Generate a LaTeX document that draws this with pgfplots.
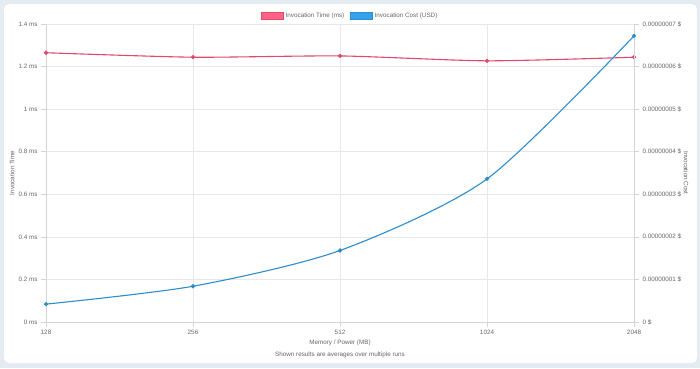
\documentclass[border=0pt]{standalone}
\usepackage{pgfplots}
\pgfplotsset{compat=1.18}
\usepackage{fontspec}
\setmainfont{Liberation Sans}
\definecolor{bgc}{HTML}{E4EBF1}
\definecolor{txt}{HTML}{666666}
\definecolor{gridc}{HTML}{E8E8E8}
\definecolor{axc}{HTML}{D4D4D4}
\definecolor{redl}{HTML}{DE4A6C}
\definecolor{redf}{HTML}{FF6384}
\definecolor{bluel}{HTML}{2E8DCB}
\definecolor{bluef}{HTML}{36A2EB}
\newcommand{\sz}{\fontsize{6.3}{7.5}\selectfont}
\pgfplotsset{
  common/.style={
    at={(46pt,46pt)}, anchor=south west, scale only axis,
    width=588pt, height=298pt,
    xmin=0, xmax=4,
    tick align=outside, major tick length=5pt,
    tick style={axc, line width=0.6pt},
    axis line style={axc, line width=0.7pt},
    ticklabel style={font=\sz, text=txt},
    scaled ticks=false,
    /pgf/number format/assume math mode=true,
  }
}
\begin{document}
\begin{tikzpicture}[x=1pt,y=1pt]
\fill[bgc] (0,0) rectangle (700,368);
\fill[white, rounded corners=5pt] (4,5) rectangle (697,364);
\begin{axis}[common,
  ymin=0, ymax=1.4,
  axis x line*=bottom, axis y line*=left,
  xtick={0,1,2,3,4}, xticklabels={128,256,512,1024,2048},
  ytick={0,0.2,0.4,0.6,0.8,1,1.2,1.4},
  yticklabels={0 ms,0.2 ms,0.4 ms,0.6 ms,0.8 ms,1 ms,1.2 ms,1.4 ms},
  grid=major, major grid style={gridc, line width=0.6pt},
  legend style={at={(0.5,1)}, anchor=south, xshift=10pt, yshift=3pt, draw=none, fill=none,
    font=\sz, text=txt, legend columns=2, inner sep=0pt,
    /tikz/every even column/.append style={column sep=4pt}},
  legend cell align=left,
]
\addplot[redl, line width=1.1pt, smooth, tension=0.4, mark=*, mark size=1.5pt,
  mark options={fill=redl, draw=redl},
  legend image code/.code={\draw[draw=redl, fill=redf] (0pt,-3.4pt) rectangle (22pt,3.4pt);}]
  coordinates {(0,1.265) (1,1.244) (2,1.250) (3,1.227) (4,1.244)};
\addlegendentry{Invocation Time (ms)}
\addlegendimage{legend image code/.code={\draw[draw=bluel, fill=bluef] (0pt,-3.4pt) rectangle (22pt,3.4pt);}}
\addlegendentry{Invocation Cost (USD)}
\end{axis}
\begin{axis}[common,
  ymin=0, ymax=7e-8,
  axis x line=none, axis y line*=right,
  ytick={0,1e-8,2e-8,3e-8,4e-8,5e-8,6e-8,7e-8},
  yticklabels={0 \$,0.00000001 \$,0.00000002 \$,0.00000003 \$,0.00000004 \$,0.00000005 \$,0.00000006 \$,0.00000007 \$},
]
\addplot[bluel, line width=1.1pt, smooth, tension=0.45, mark=*, mark size=1.5pt,
  mark options={fill=bluel, draw=bluel}]
  coordinates {(0,4.2e-9) (1,8.4e-9) (2,1.68e-8) (3,3.36e-8) (4,6.72e-8)};
\end{axis}
\node[rotate=90, font=\sz, text=txt] at (12,195) {Invocation Time};
\node[rotate=-90, font=\sz, text=txt] at (686,195) {Invocation Cost};
\node[font=\sz, text=txt] at (340,25) {Memory / Power (MB)};
\node[font=\sz, text=txt] at (340,13) {Shown results are averages over multiple runs};
\end{tikzpicture}
\end{document}
